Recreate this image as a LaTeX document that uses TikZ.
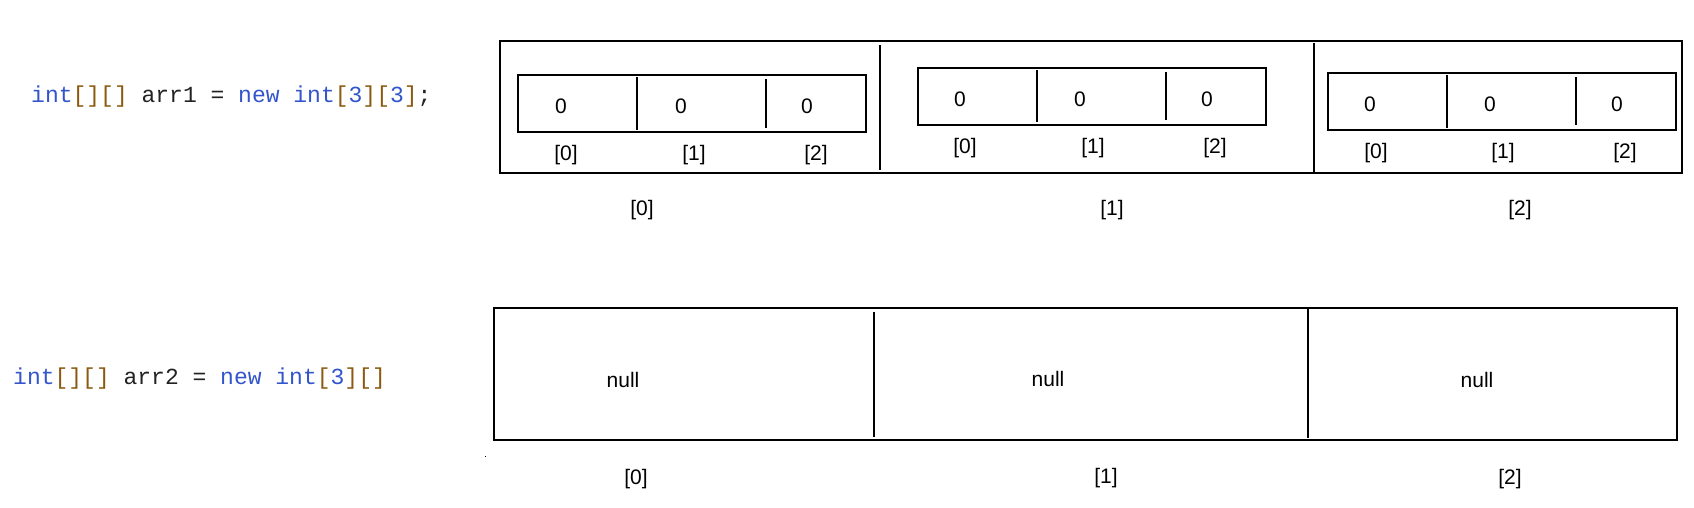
\documentclass[tikz,border=0pt]{standalone}
\usepackage{fontspec}
\setmainfont{Liberation Sans}
\newfontfamily\codefont{Liberation Mono}
\definecolor{kw}{HTML}{3355CC}
\definecolor{br}{HTML}{8B5A10}
\definecolor{tx}{HTML}{222222}
\tikzset{
  frame/.style={draw=black,line width=1.1pt},
  sep/.style={draw=black,line width=1.1pt},
  val/.style={inner sep=0pt,font=\fontsize{21}{25}\selectfont},
  idx/.style={inner sep=0pt,font=\fontsize{21}{25}\selectfont},
  code/.style={inner sep=0pt,anchor=west,font=\codefont\fontsize{23}{28}\selectfont,text=tx},
}
\newcommand{\K}[1]{\textcolor{kw}{#1}}
\newcommand{\B}[1]{\textcolor{br}{#1}}
\begin{document}
\begin{tikzpicture}[x=1pt,y=-1pt]
\useasboundingbox (0,0) rectangle (1694,508);
% code
\node[code] (c1) at (31,97) {\K{int}\B{[][]} arr1 = \K{new} \K{int}\B{[}\K{3}\B{][}\K{3}\B{]};};
\node[code] (c2) at (13,379) {\K{int}\B{[][]} arr2 = \K{new} \K{int}\B{[}\K{3}\B{][]}};
% top outer
\draw[frame] (500,41) rectangle (1682,173);
\draw[sep] (880,45) -- (880,170);
\draw[sep] (1314,43) -- (1314,172);
% inner 1
\draw[frame] (518,75) rectangle (866,132);
\draw[sep] (637,77) -- (637,130);
\draw[sep] (766,79) -- (766,128);
% inner 2
\draw[frame] (918,68) rectangle (1266,125);
\draw[sep] (1037,70) -- (1037,122);
\draw[sep] (1166,72) -- (1166,120);
% inner 3
\draw[frame] (1328,73) rectangle (1676,130);
\draw[sep] (1447,75) -- (1447,128);
\draw[sep] (1576,77) -- (1576,125);
% values
\node[val] (a00) at (561,106) {0};
\node[val] (a01) at (681,106) {0};
\node[val] (a02) at (807,106) {0};
\node[val] (a10) at (960,99) {0};
\node[val] (a11) at (1080,99) {0};
\node[val] (a12) at (1207,99) {0};
\node[val] (a20) at (1370,104) {0};
\node[val] (a21) at (1490,104) {0};
\node[val] (a22) at (1617,104) {0};
% inner indices
\node[idx] (i00) at (566,155) {[0]};
\node[idx] (i01) at (694,155) {[1]};
\node[idx] (i02) at (816,155) {[2]};
\node[idx] (i10) at (965,148) {[0]};
\node[idx] (i11) at (1093,148) {[1]};
\node[idx] (i12) at (1215,148) {[2]};
\node[idx] (i20) at (1376,153) {[0]};
\node[idx] (i21) at (1503,153) {[1]};
\node[idx] (i22) at (1625,153) {[2]};
% outer indices
\node[idx] (o0) at (642,210) {[0]};
\node[idx] (o1) at (1112,210) {[1]};
\node[idx] (o2) at (1520,210) {[2]};
% bottom
\draw[frame] (494,308) rectangle (1677,440);
\draw[sep] (874,312) -- (874,437);
\draw[sep] (1308,308) -- (1308,438);
\node[val] (n0) at (623,380) {null};
\node[val] (n1) at (1048,379) {null};
\node[val] (n2) at (1477,380) {null};
\node[idx] (b0) at (636,479) {[0]};
\node[idx] (b1) at (1106,478) {[1]};
\node[idx] (b2) at (1510,479) {[2]};
\fill (484.5,455.5) rectangle (486,457);
\end{tikzpicture}
\end{document}
